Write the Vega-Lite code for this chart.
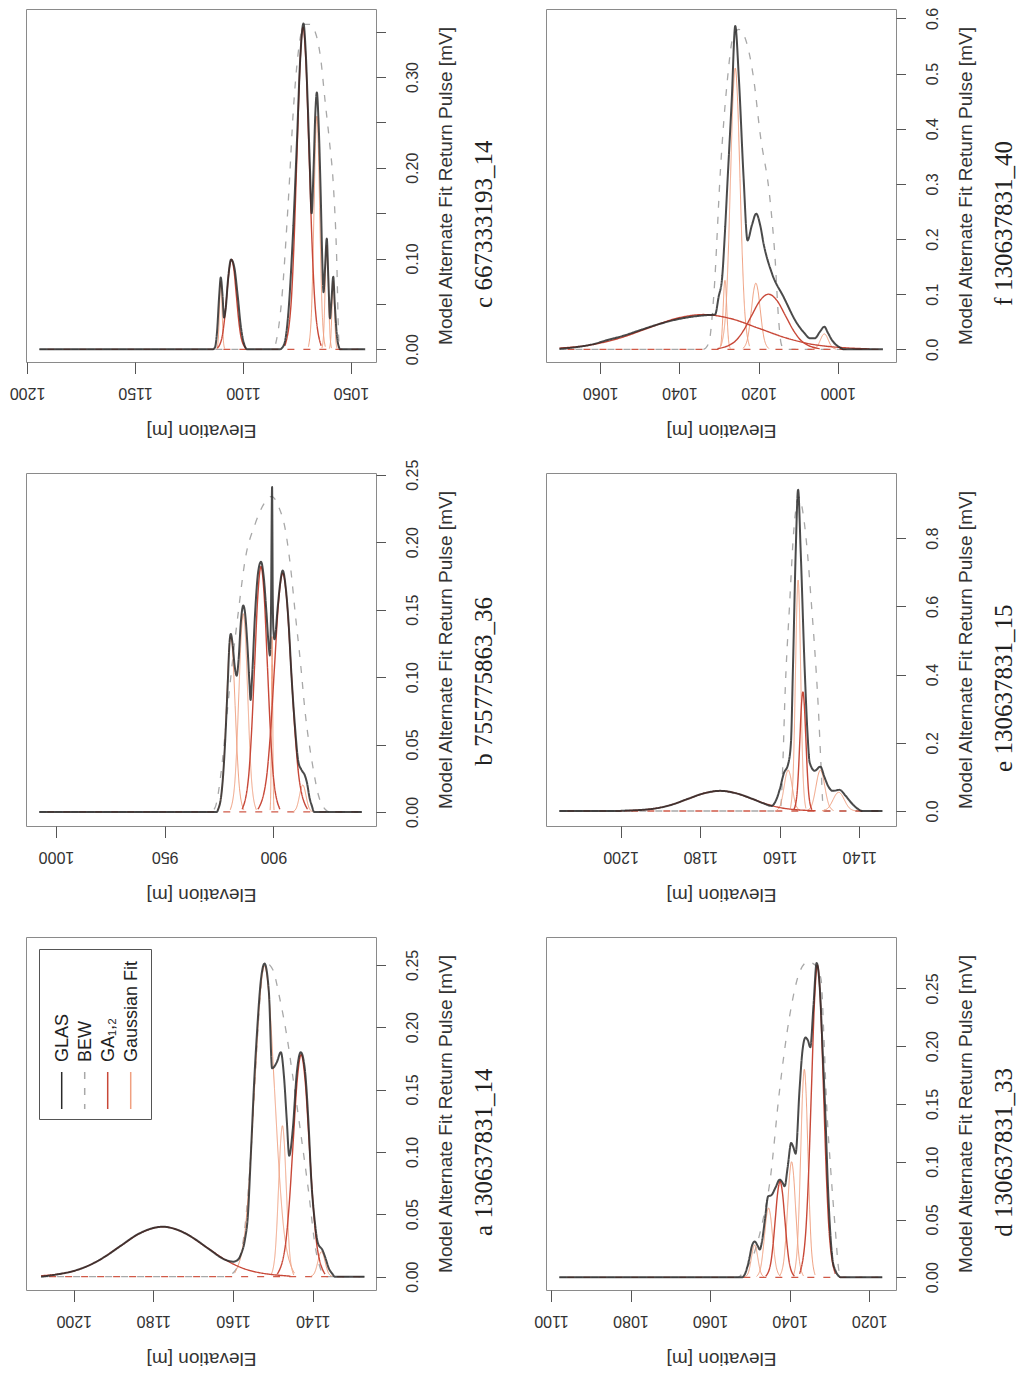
{
"$schema": "https://vega.github.io/schema/vega-lite/v6.json",
"background": "white",
"padding": {"left": 8, "top": 6, "right": 0, "bottom": 0},
"bounds": "flush",
"columns": 2,
"spacing": {"row": 111, "column": 170},
"resolve": {"scale": {"color": "independent", "strokeDash": "independent"}, "legend": {"color": "independent", "strokeDash": "independent"}},
"config": {
 "view": {"stroke": "#8a8a8a", "strokeWidth": 1},
 "axis": {"grid": false, "domain": false, "tickColor": "#555", "tickWidth": 1, "labelColor": "#333", "titleColor": "#333", "labelFont": "Liberation Sans", "titleFont": "Liberation Sans", "titleFontWeight": "normal", "labelFontSize": 16, "titleFontSize": 19, "labelOverlap": false, "labelFlush": false},
 "axisX": {"labelAngle": 180, "titleAngle": 180, "titleBaseline": "bottom", "tickSize": 11.5, "labelPadding": 11, "titlePadding": 20},
 "axisY": {"labelAngle": 270, "titleAngle": 270, "titleBaseline": "top", "tickSize": 9.5, "labelPadding": 19, "titlePadding": 16}
},
"datasets": {"w": [
{"p":"a","k":"GLAS","s":"g","e":1208.2,"v":0},{"p":"a","k":"GLAS","s":"g","e":1204,"v":0.0019},{"p":"a","k":"GLAS","s":"g","e":1200,"v":0.0046},{"p":"a","k":"GLAS","s":"g","e":1196,"v":0.0093},{"p":"a","k":"GLAS","s":"g","e":1192,"v":0.0164},{"p":"a","k":"GLAS","s":"g","e":1188,"v":0.0252},{"p":"a","k":"GLAS","s":"g","e":1184,"v":0.0338},{"p":"a","k":"GLAS","s":"g","e":1180,"v":0.039},{"p":"a","k":"GLAS","s":"g","e":1177.7,"v":0.04},{"p":"a","k":"GLAS","s":"g","e":1174,"v":0.0376},{"p":"a","k":"GLAS","s":"g","e":1170,"v":0.031},{"p":"a","k":"GLAS","s":"g","e":1166,"v":0.022},{"p":"a","k":"GLAS","s":"g","e":1162,"v":0.0136},{"p":"a","k":"GLAS","s":"g","e":1160,"v":0.012},{"p":"a","k":"GLAS","s":"g","e":1159,"v":0.013},{"p":"a","k":"GLAS","s":"g","e":1158,"v":0.018},{"p":"a","k":"GLAS","s":"g","e":1157,"v":0.03},{"p":"a","k":"GLAS","s":"g","e":1156.3,"v":0.048},{"p":"a","k":"GLAS","s":"g","e":1155.5,"v":0.1},{"p":"a","k":"GLAS","s":"g","e":1154.7,"v":0.156},{"p":"a","k":"GLAS","s":"g","e":1154,"v":0.195},{"p":"a","k":"GLAS","s":"g","e":1153,"v":0.238},{"p":"a","k":"GLAS","s":"g","e":1152.1,"v":0.251},{"p":"a","k":"GLAS","s":"g","e":1151,"v":0.228},{"p":"a","k":"GLAS","s":"g","e":1150.2,"v":0.167},{"p":"a","k":"GLAS","s":"g","e":1149,"v":0.172},{"p":"a","k":"GLAS","s":"g","e":1148,"v":0.18},{"p":"a","k":"GLAS","s":"g","e":1147.2,"v":0.16},{"p":"a","k":"GLAS","s":"g","e":1146.5,"v":0.125},{"p":"a","k":"GLAS","s":"g","e":1145.9,"v":0.097},{"p":"a","k":"GLAS","s":"g","e":1145,"v":0.118},{"p":"a","k":"GLAS","s":"g","e":1144,"v":0.163},{"p":"a","k":"GLAS","s":"g","e":1143,"v":0.18},{"p":"a","k":"GLAS","s":"g","e":1142,"v":0.167},{"p":"a","k":"GLAS","s":"g","e":1141,"v":0.12},{"p":"a","k":"GLAS","s":"g","e":1140.4,"v":0.08},{"p":"a","k":"GLAS","s":"g","e":1139.5,"v":0.045},{"p":"a","k":"GLAS","s":"g","e":1138.7,"v":0.027},{"p":"a","k":"GLAS","s":"g","e":1137.5,"v":0.021},{"p":"a","k":"GLAS","s":"g","e":1136.8,"v":0.015},{"p":"a","k":"GLAS","s":"g","e":1136,"v":0.007},{"p":"a","k":"GLAS","s":"g","e":1135,"v":0.002},{"p":"a","k":"GLAS","s":"g","e":1134.5,"v":0},{"p":"a","k":"GLAS","s":"g","e":1127,"v":0},
{"p":"a","k":"BEW","s":"b","e":1208.2,"v":0},{"p":"a","k":"BEW","s":"b","e":1162,"v":0},{"p":"a","k":"BEW","s":"b","e":1160,"v":0.003},{"p":"a","k":"BEW","s":"b","e":1158.5,"v":0.012},{"p":"a","k":"BEW","s":"b","e":1157,"v":0.04},{"p":"a","k":"BEW","s":"b","e":1155.5,"v":0.1},{"p":"a","k":"BEW","s":"b","e":1154,"v":0.185},{"p":"a","k":"BEW","s":"b","e":1153,"v":0.232},{"p":"a","k":"BEW","s":"b","e":1152,"v":0.252},{"p":"a","k":"BEW","s":"b","e":1150,"v":0.246},{"p":"a","k":"BEW","s":"b","e":1148.4,"v":0.225},{"p":"a","k":"BEW","s":"b","e":1146.5,"v":0.193},{"p":"a","k":"BEW","s":"b","e":1144.8,"v":0.156},{"p":"a","k":"BEW","s":"b","e":1143,"v":0.115},{"p":"a","k":"BEW","s":"b","e":1141.1,"v":0.07},{"p":"a","k":"BEW","s":"b","e":1139.2,"v":0.021},{"p":"a","k":"BEW","s":"b","e":1138,"v":0.006},{"p":"a","k":"BEW","s":"b","e":1137,"v":0},{"p":"a","k":"BEW","s":"b","e":1127,"v":0},
{"p":"a","k":"GA","s":"A1","e":1145.6,"v":0.0004},{"p":"a","k":"GA","s":"A1","e":1156.3,"v":0.0054},{"p":"a","k":"GA","s":"A1","e":1161.65,"v":0.013},{"p":"a","k":"GA","s":"A1","e":1167,"v":0.0243},{"p":"a","k":"GA","s":"A1","e":1172.35,"v":0.0353},{"p":"a","k":"GA","s":"A1","e":1177.7,"v":0.04},{"p":"a","k":"GA","s":"A1","e":1183.05,"v":0.0353},{"p":"a","k":"GA","s":"A1","e":1188.4,"v":0.0243},{"p":"a","k":"GA","s":"A1","e":1193.75,"v":0.013},{"p":"a","k":"GA","s":"A1","e":1199.1,"v":0.0054},{"p":"a","k":"GA","s":"A1","e":1208.2,"v":0.0007},
{"p":"a","k":"GA","s":"A2","e":1136.9,"v":0.002},{"p":"a","k":"GA","s":"A2","e":1138.9,"v":0.0241},{"p":"a","k":"GA","s":"A2","e":1139.9,"v":0.0578},{"p":"a","k":"GA","s":"A2","e":1140.9,"v":0.108},{"p":"a","k":"GA","s":"A2","e":1141.9,"v":0.1571},{"p":"a","k":"GA","s":"A2","e":1142.9,"v":0.178},{"p":"a","k":"GA","s":"A2","e":1143.9,"v":0.1571},{"p":"a","k":"GA","s":"A2","e":1144.9,"v":0.108},{"p":"a","k":"GA","s":"A2","e":1145.9,"v":0.0578},{"p":"a","k":"GA","s":"A2","e":1146.9,"v":0.0241},{"p":"a","k":"GA","s":"A2","e":1148.9,"v":0.002},
{"p":"a","k":"Gaussian Fit","s":"f1","e":1144.6,"v":0.0028},{"p":"a","k":"Gaussian Fit","s":"f1","e":1147.1,"v":0.0337},{"p":"a","k":"Gaussian Fit","s":"f1","e":1148.35,"v":0.0809},{"p":"a","k":"Gaussian Fit","s":"f1","e":1149.6,"v":0.151},{"p":"a","k":"Gaussian Fit","s":"f1","e":1150.85,"v":0.2197},{"p":"a","k":"Gaussian Fit","s":"f1","e":1152.1,"v":0.249},{"p":"a","k":"Gaussian Fit","s":"f1","e":1153.35,"v":0.2197},{"p":"a","k":"Gaussian Fit","s":"f1","e":1154.6,"v":0.151},{"p":"a","k":"Gaussian Fit","s":"f1","e":1155.85,"v":0.0809},{"p":"a","k":"Gaussian Fit","s":"f1","e":1157.1,"v":0.0337},{"p":"a","k":"Gaussian Fit","s":"f1","e":1159.6,"v":0.0028},
{"p":"a","k":"Gaussian Fit","s":"f2","e":1144.75,"v":0.0013},{"p":"a","k":"Gaussian Fit","s":"f2","e":1145.7,"v":0.0164},{"p":"a","k":"Gaussian Fit","s":"f2","e":1146.175,"v":0.0393},{"p":"a","k":"Gaussian Fit","s":"f2","e":1146.65,"v":0.0734},{"p":"a","k":"Gaussian Fit","s":"f2","e":1147.125,"v":0.1068},{"p":"a","k":"Gaussian Fit","s":"f2","e":1147.6,"v":0.121},{"p":"a","k":"Gaussian Fit","s":"f2","e":1148.075,"v":0.1068},{"p":"a","k":"Gaussian Fit","s":"f2","e":1148.55,"v":0.0734},{"p":"a","k":"Gaussian Fit","s":"f2","e":1149.025,"v":0.0393},{"p":"a","k":"Gaussian Fit","s":"f2","e":1149.5,"v":0.0164},{"p":"a","k":"Gaussian Fit","s":"f2","e":1150.45,"v":0.0013},
{"p":"a","k":"Gaussian Fit","s":"f3","e":1135.1,"v":0.0002},{"p":"a","k":"Gaussian Fit","s":"f3","e":1136,"v":0.0027},{"p":"a","k":"Gaussian Fit","s":"f3","e":1136.45,"v":0.0065},{"p":"a","k":"Gaussian Fit","s":"f3","e":1136.9,"v":0.0121},{"p":"a","k":"Gaussian Fit","s":"f3","e":1137.35,"v":0.0177},{"p":"a","k":"Gaussian Fit","s":"f3","e":1137.8,"v":0.02},{"p":"a","k":"Gaussian Fit","s":"f3","e":1138.25,"v":0.0177},{"p":"a","k":"Gaussian Fit","s":"f3","e":1138.7,"v":0.0121},{"p":"a","k":"Gaussian Fit","s":"f3","e":1139.15,"v":0.0065},{"p":"a","k":"Gaussian Fit","s":"f3","e":1139.6,"v":0.0027},{"p":"a","k":"Gaussian Fit","s":"f3","e":1140.5,"v":0.0002},

{"p":"b","k":"GLAS","s":"g","e":1007.7,"v":0},{"p":"b","k":"GLAS","s":"g","e":926,"v":0},{"p":"b","k":"GLAS","s":"g","e":925.4,"v":0.002},{"p":"b","k":"GLAS","s":"g","e":924,"v":0.012},{"p":"b","k":"GLAS","s":"g","e":923,"v":0.03},{"p":"b","k":"GLAS","s":"g","e":922.3,"v":0.049},{"p":"b","k":"GLAS","s":"g","e":921,"v":0.095},{"p":"b","k":"GLAS","s":"g","e":920.2,"v":0.125},{"p":"b","k":"GLAS","s":"g","e":919.6,"v":0.132},{"p":"b","k":"GLAS","s":"g","e":918.8,"v":0.125},{"p":"b","k":"GLAS","s":"g","e":917.8,"v":0.108},{"p":"b","k":"GLAS","s":"g","e":916.9,"v":0.101},{"p":"b","k":"GLAS","s":"g","e":916,"v":0.113},{"p":"b","k":"GLAS","s":"g","e":915,"v":0.14},{"p":"b","k":"GLAS","s":"g","e":913.85,"v":0.153},{"p":"b","k":"GLAS","s":"g","e":913,"v":0.147},{"p":"b","k":"GLAS","s":"g","e":912,"v":0.125},{"p":"b","k":"GLAS","s":"g","e":911,"v":0.095},{"p":"b","k":"GLAS","s":"g","e":910.5,"v":0.083},{"p":"b","k":"GLAS","s":"g","e":909.8,"v":0.1},{"p":"b","k":"GLAS","s":"g","e":908.5,"v":0.145},{"p":"b","k":"GLAS","s":"g","e":907,"v":0.178},{"p":"b","k":"GLAS","s":"g","e":905.7,"v":0.1855},{"p":"b","k":"GLAS","s":"g","e":904.5,"v":0.175},{"p":"b","k":"GLAS","s":"g","e":903.2,"v":0.148},{"p":"b","k":"GLAS","s":"g","e":902.2,"v":0.124},{"p":"b","k":"GLAS","s":"g","e":901.6,"v":0.116},{"p":"b","k":"GLAS","s":"g","e":901.1,"v":0.15},{"p":"b","k":"GLAS","s":"g","e":900.6,"v":0.241},{"p":"b","k":"GLAS","s":"g","e":900.3,"v":0.16},{"p":"b","k":"GLAS","s":"g","e":900,"v":0.135},{"p":"b","k":"GLAS","s":"g","e":899.5,"v":0.128},{"p":"b","k":"GLAS","s":"g","e":898,"v":0.152},{"p":"b","k":"GLAS","s":"g","e":897,"v":0.168},{"p":"b","k":"GLAS","s":"g","e":895.7,"v":0.179},{"p":"b","k":"GLAS","s":"g","e":894.3,"v":0.166},{"p":"b","k":"GLAS","s":"g","e":893,"v":0.14},{"p":"b","k":"GLAS","s":"g","e":891.6,"v":0.099},{"p":"b","k":"GLAS","s":"g","e":890,"v":0.062},{"p":"b","k":"GLAS","s":"g","e":888.5,"v":0.037},{"p":"b","k":"GLAS","s":"g","e":887,"v":0.031},{"p":"b","k":"GLAS","s":"g","e":885.5,"v":0.027},{"p":"b","k":"GLAS","s":"g","e":884.6,"v":0.022},{"p":"b","k":"GLAS","s":"g","e":883.3,"v":0.01},{"p":"b","k":"GLAS","s":"g","e":882.3,"v":0.0045},{"p":"b","k":"GLAS","s":"g","e":881.3,"v":0},{"p":"b","k":"GLAS","s":"g","e":859.3,"v":0},
{"p":"b","k":"BEW","s":"b","e":1007.7,"v":0},{"p":"b","k":"BEW","s":"b","e":929,"v":0},{"p":"b","k":"BEW","s":"b","e":926.9,"v":0.003},{"p":"b","k":"BEW","s":"b","e":924,"v":0.03},{"p":"b","k":"BEW","s":"b","e":921.5,"v":0.07},{"p":"b","k":"BEW","s":"b","e":919.2,"v":0.106},{"p":"b","k":"BEW","s":"b","e":916,"v":0.15},{"p":"b","k":"BEW","s":"b","e":913.1,"v":0.186},{"p":"b","k":"BEW","s":"b","e":908.5,"v":0.213},{"p":"b","k":"BEW","s":"b","e":904.5,"v":0.228},{"p":"b","k":"BEW","s":"b","e":900.8,"v":0.234},{"p":"b","k":"BEW","s":"b","e":897.5,"v":0.226},{"p":"b","k":"BEW","s":"b","e":894.6,"v":0.21},{"p":"b","k":"BEW","s":"b","e":892,"v":0.18},{"p":"b","k":"BEW","s":"b","e":890,"v":0.148},{"p":"b","k":"BEW","s":"b","e":887.5,"v":0.11},{"p":"b","k":"BEW","s":"b","e":885.4,"v":0.074},{"p":"b","k":"BEW","s":"b","e":882,"v":0.035},{"p":"b","k":"BEW","s":"b","e":879.2,"v":0.012},{"p":"b","k":"BEW","s":"b","e":876.2,"v":0.002},{"p":"b","k":"BEW","s":"b","e":874,"v":0},{"p":"b","k":"BEW","s":"b","e":859.3,"v":0},
{"p":"b","k":"Gaussian Fit","s":"f1","e":913.6,"v":0.0014},{"p":"b","k":"Gaussian Fit","s":"f1","e":915.6,"v":0.0176},{"p":"b","k":"Gaussian Fit","s":"f1","e":916.6,"v":0.0422},{"p":"b","k":"Gaussian Fit","s":"f1","e":917.6,"v":0.0788},{"p":"b","k":"Gaussian Fit","s":"f1","e":918.6,"v":0.1147},{"p":"b","k":"Gaussian Fit","s":"f1","e":919.6,"v":0.13},{"p":"b","k":"Gaussian Fit","s":"f1","e":920.6,"v":0.1147},{"p":"b","k":"Gaussian Fit","s":"f1","e":921.6,"v":0.0788},{"p":"b","k":"Gaussian Fit","s":"f1","e":922.6,"v":0.0422},{"p":"b","k":"Gaussian Fit","s":"f1","e":923.6,"v":0.0176},{"p":"b","k":"Gaussian Fit","s":"f1","e":925.6,"v":0.0014},
{"p":"b","k":"Gaussian Fit","s":"f2","e":907.85,"v":0.0016},{"p":"b","k":"Gaussian Fit","s":"f2","e":909.85,"v":0.0199},{"p":"b","k":"Gaussian Fit","s":"f2","e":910.85,"v":0.0477},{"p":"b","k":"Gaussian Fit","s":"f2","e":911.85,"v":0.0892},{"p":"b","k":"Gaussian Fit","s":"f2","e":912.85,"v":0.1297},{"p":"b","k":"Gaussian Fit","s":"f2","e":913.85,"v":0.147},{"p":"b","k":"Gaussian Fit","s":"f2","e":914.85,"v":0.1297},{"p":"b","k":"Gaussian Fit","s":"f2","e":915.85,"v":0.0892},{"p":"b","k":"Gaussian Fit","s":"f2","e":916.85,"v":0.0477},{"p":"b","k":"Gaussian Fit","s":"f2","e":917.85,"v":0.0199},{"p":"b","k":"Gaussian Fit","s":"f2","e":919.85,"v":0.0016},
{"p":"b","k":"GA","s":"A1","e":897,"v":0.002},{"p":"b","k":"GA","s":"A1","e":899.9,"v":0.0246},{"p":"b","k":"GA","s":"A1","e":901.35,"v":0.0591},{"p":"b","k":"GA","s":"A1","e":902.8,"v":0.1104},{"p":"b","k":"GA","s":"A1","e":904.25,"v":0.1606},{"p":"b","k":"GA","s":"A1","e":905.7,"v":0.182},{"p":"b","k":"GA","s":"A1","e":907.15,"v":0.1606},{"p":"b","k":"GA","s":"A1","e":908.6,"v":0.1104},{"p":"b","k":"GA","s":"A1","e":910.05,"v":0.0591},{"p":"b","k":"GA","s":"A1","e":911.5,"v":0.0246},{"p":"b","k":"GA","s":"A1","e":914.4,"v":0.002},
{"p":"b","k":"Gaussian Fit","s":"f3","e":899.7,"v":0.0014},{"p":"b","k":"Gaussian Fit","s":"f3","e":900,"v":0.0176},{"p":"b","k":"Gaussian Fit","s":"f3","e":900.15,"v":0.0422},{"p":"b","k":"Gaussian Fit","s":"f3","e":900.3,"v":0.0788},{"p":"b","k":"Gaussian Fit","s":"f3","e":900.45,"v":0.1147},{"p":"b","k":"Gaussian Fit","s":"f3","e":900.6,"v":0.13},{"p":"b","k":"Gaussian Fit","s":"f3","e":900.75,"v":0.1147},{"p":"b","k":"Gaussian Fit","s":"f3","e":900.9,"v":0.0788},{"p":"b","k":"Gaussian Fit","s":"f3","e":901.05,"v":0.0422},{"p":"b","k":"Gaussian Fit","s":"f3","e":901.2,"v":0.0176},{"p":"b","k":"Gaussian Fit","s":"f3","e":901.5,"v":0.0014},
{"p":"b","k":"GA","s":"A2","e":884.3,"v":0.002},{"p":"b","k":"GA","s":"A2","e":888.1,"v":0.0239},{"p":"b","k":"GA","s":"A2","e":890,"v":0.0575},{"p":"b","k":"GA","s":"A2","e":891.9,"v":0.1074},{"p":"b","k":"GA","s":"A2","e":893.8,"v":0.1562},{"p":"b","k":"GA","s":"A2","e":895.7,"v":0.177},{"p":"b","k":"GA","s":"A2","e":897.6,"v":0.1562},{"p":"b","k":"GA","s":"A2","e":899.5,"v":0.1074},{"p":"b","k":"GA","s":"A2","e":901.4,"v":0.0575},{"p":"b","k":"GA","s":"A2","e":903.3,"v":0.0239},{"p":"b","k":"GA","s":"A2","e":907.1,"v":0.002},
{"p":"b","k":"Gaussian Fit","s":"f4","e":882,"v":0.0002},{"p":"b","k":"Gaussian Fit","s":"f4","e":883.5,"v":0.0027},{"p":"b","k":"Gaussian Fit","s":"f4","e":884.25,"v":0.0065},{"p":"b","k":"Gaussian Fit","s":"f4","e":885,"v":0.0121},{"p":"b","k":"Gaussian Fit","s":"f4","e":885.75,"v":0.0177},{"p":"b","k":"Gaussian Fit","s":"f4","e":886.5,"v":0.02},{"p":"b","k":"Gaussian Fit","s":"f4","e":887.25,"v":0.0177},{"p":"b","k":"Gaussian Fit","s":"f4","e":888,"v":0.0121},{"p":"b","k":"Gaussian Fit","s":"f4","e":888.75,"v":0.0065},{"p":"b","k":"Gaussian Fit","s":"f4","e":889.5,"v":0.0027},{"p":"b","k":"Gaussian Fit","s":"f4","e":891,"v":0.0002},

{"p":"c","k":"GLAS","s":"g","e":1194.3,"v":0},{"p":"c","k":"GLAS","s":"g","e":1114,"v":0},{"p":"c","k":"GLAS","s":"g","e":1113,"v":0.002},{"p":"c","k":"GLAS","s":"g","e":1112,"v":0.02},{"p":"c","k":"GLAS","s":"g","e":1111,"v":0.06},{"p":"c","k":"GLAS","s":"g","e":1110.3,"v":0.079},{"p":"c","k":"GLAS","s":"g","e":1109.5,"v":0.06},{"p":"c","k":"GLAS","s":"g","e":1108.8,"v":0.035},{"p":"c","k":"GLAS","s":"g","e":1108,"v":0.045},{"p":"c","k":"GLAS","s":"g","e":1107,"v":0.075},{"p":"c","k":"GLAS","s":"g","e":1105.5,"v":0.099},{"p":"c","k":"GLAS","s":"g","e":1104,"v":0.09},{"p":"c","k":"GLAS","s":"g","e":1102.5,"v":0.06},{"p":"c","k":"GLAS","s":"g","e":1101,"v":0.025},{"p":"c","k":"GLAS","s":"g","e":1099.5,"v":0.006},{"p":"c","k":"GLAS","s":"g","e":1098,"v":0},{"p":"c","k":"GLAS","s":"g","e":1083,"v":0},{"p":"c","k":"GLAS","s":"g","e":1081,"v":0.005},{"p":"c","k":"GLAS","s":"g","e":1079,"v":0.04},{"p":"c","k":"GLAS","s":"g","e":1077,"v":0.12},{"p":"c","k":"GLAS","s":"g","e":1075,"v":0.23},{"p":"c","k":"GLAS","s":"g","e":1073.5,"v":0.32},{"p":"c","k":"GLAS","s":"g","e":1072,"v":0.359},{"p":"c","k":"GLAS","s":"g","e":1071,"v":0.33},{"p":"c","k":"GLAS","s":"g","e":1070,"v":0.27},{"p":"c","k":"GLAS","s":"g","e":1069,"v":0.2},{"p":"c","k":"GLAS","s":"g","e":1068.2,"v":0.15},{"p":"c","k":"GLAS","s":"g","e":1067.3,"v":0.2},{"p":"c","k":"GLAS","s":"g","e":1066.5,"v":0.26},{"p":"c","k":"GLAS","s":"g","e":1065.8,"v":0.283},{"p":"c","k":"GLAS","s":"g","e":1065,"v":0.25},{"p":"c","k":"GLAS","s":"g","e":1064,"v":0.17},{"p":"c","k":"GLAS","s":"g","e":1063.3,"v":0.1},{"p":"c","k":"GLAS","s":"g","e":1062.7,"v":0.063},{"p":"c","k":"GLAS","s":"g","e":1062,"v":0.09},{"p":"c","k":"GLAS","s":"g","e":1061.2,"v":0.122},{"p":"c","k":"GLAS","s":"g","e":1060.5,"v":0.08},{"p":"c","k":"GLAS","s":"g","e":1059.7,"v":0.034},{"p":"c","k":"GLAS","s":"g","e":1059,"v":0.055},{"p":"c","k":"GLAS","s":"g","e":1058.2,"v":0.08},{"p":"c","k":"GLAS","s":"g","e":1057.5,"v":0.05},{"p":"c","k":"GLAS","s":"g","e":1056.5,"v":0.015},{"p":"c","k":"GLAS","s":"g","e":1055.5,"v":0.002},{"p":"c","k":"GLAS","s":"g","e":1055,"v":0},{"p":"c","k":"GLAS","s":"g","e":1043.4,"v":0},
{"p":"c","k":"BEW","s":"b","e":1194.3,"v":0},{"p":"c","k":"BEW","s":"b","e":1086,"v":0},{"p":"c","k":"BEW","s":"b","e":1084.5,"v":0.01},{"p":"c","k":"BEW","s":"b","e":1082.1,"v":0.054},{"p":"c","k":"BEW","s":"b","e":1079,"v":0.164},{"p":"c","k":"BEW","s":"b","e":1076.5,"v":0.27},{"p":"c","k":"BEW","s":"b","e":1074,"v":0.335},{"p":"c","k":"BEW","s":"b","e":1071.5,"v":0.358},{"p":"c","k":"BEW","s":"b","e":1069,"v":0.358},{"p":"c","k":"BEW","s":"b","e":1066.6,"v":0.35},{"p":"c","k":"BEW","s":"b","e":1064,"v":0.32},{"p":"c","k":"BEW","s":"b","e":1062,"v":0.274},{"p":"c","k":"BEW","s":"b","e":1060,"v":0.23},{"p":"c","k":"BEW","s":"b","e":1058.1,"v":0.179},{"p":"c","k":"BEW","s":"b","e":1056.5,"v":0.091},{"p":"c","k":"BEW","s":"b","e":1055.8,"v":0.02},{"p":"c","k":"BEW","s":"b","e":1055.2,"v":0},{"p":"c","k":"BEW","s":"b","e":1043.4,"v":0},
{"p":"c","k":"Gaussian Fit","s":"f1","e":1108.5,"v":0.0008},{"p":"c","k":"Gaussian Fit","s":"f1","e":1109.1,"v":0.0101},{"p":"c","k":"Gaussian Fit","s":"f1","e":1109.4,"v":0.0244},{"p":"c","k":"Gaussian Fit","s":"f1","e":1109.7,"v":0.0455},{"p":"c","k":"Gaussian Fit","s":"f1","e":1110,"v":0.0662},{"p":"c","k":"Gaussian Fit","s":"f1","e":1110.3,"v":0.075},{"p":"c","k":"Gaussian Fit","s":"f1","e":1110.6,"v":0.0662},{"p":"c","k":"Gaussian Fit","s":"f1","e":1110.9,"v":0.0455},{"p":"c","k":"Gaussian Fit","s":"f1","e":1111.2,"v":0.0244},{"p":"c","k":"Gaussian Fit","s":"f1","e":1111.5,"v":0.0101},{"p":"c","k":"Gaussian Fit","s":"f1","e":1112.1,"v":0.0008},
{"p":"c","k":"GA","s":"A1","e":1098.7,"v":0.0011},{"p":"c","k":"GA","s":"A1","e":1100.9,"v":0.0134},{"p":"c","k":"GA","s":"A1","e":1102,"v":0.0321},{"p":"c","k":"GA","s":"A1","e":1103.1,"v":0.06},{"p":"c","k":"GA","s":"A1","e":1104.2,"v":0.0874},{"p":"c","k":"GA","s":"A1","e":1105.3,"v":0.099},{"p":"c","k":"GA","s":"A1","e":1106.4,"v":0.0874},{"p":"c","k":"GA","s":"A1","e":1107.5,"v":0.06},{"p":"c","k":"GA","s":"A1","e":1108.6,"v":0.0321},{"p":"c","k":"GA","s":"A1","e":1109.7,"v":0.0134},{"p":"c","k":"GA","s":"A1","e":1111.9,"v":0.0011},
{"p":"c","k":"GA","s":"A2","e":1063.8,"v":0.0039},{"p":"c","k":"GA","s":"A2","e":1066.6,"v":0.048},{"p":"c","k":"GA","s":"A2","e":1068,"v":0.1153},{"p":"c","k":"GA","s":"A2","e":1069.4,"v":0.2153},{"p":"c","k":"GA","s":"A2","e":1070.8,"v":0.3133},{"p":"c","k":"GA","s":"A2","e":1072.2,"v":0.355},{"p":"c","k":"GA","s":"A2","e":1073.6,"v":0.3133},{"p":"c","k":"GA","s":"A2","e":1075,"v":0.2153},{"p":"c","k":"GA","s":"A2","e":1076.4,"v":0.1153},{"p":"c","k":"GA","s":"A2","e":1077.8,"v":0.048},{"p":"c","k":"GA","s":"A2","e":1080.6,"v":0.0039},
{"p":"c","k":"Gaussian Fit","s":"f2","e":1061.9,"v":0.0029},{"p":"c","k":"Gaussian Fit","s":"f2","e":1063.2,"v":0.0348},{"p":"c","k":"Gaussian Fit","s":"f2","e":1063.85,"v":0.0834},{"p":"c","k":"Gaussian Fit","s":"f2","e":1064.5,"v":0.1559},{"p":"c","k":"Gaussian Fit","s":"f2","e":1065.15,"v":0.2268},{"p":"c","k":"Gaussian Fit","s":"f2","e":1065.8,"v":0.257},{"p":"c","k":"Gaussian Fit","s":"f2","e":1066.45,"v":0.2268},{"p":"c","k":"Gaussian Fit","s":"f2","e":1067.1,"v":0.1559},{"p":"c","k":"Gaussian Fit","s":"f2","e":1067.75,"v":0.0834},{"p":"c","k":"Gaussian Fit","s":"f2","e":1068.4,"v":0.0348},{"p":"c","k":"Gaussian Fit","s":"f2","e":1069.7,"v":0.0029},
{"p":"c","k":"Gaussian Fit","s":"f3","e":1058.95,"v":0.0013},{"p":"c","k":"Gaussian Fit","s":"f3","e":1059.7,"v":0.0156},{"p":"c","k":"Gaussian Fit","s":"f3","e":1060.075,"v":0.0373},{"p":"c","k":"Gaussian Fit","s":"f3","e":1060.45,"v":0.0697},{"p":"c","k":"Gaussian Fit","s":"f3","e":1060.825,"v":0.1015},{"p":"c","k":"Gaussian Fit","s":"f3","e":1061.2,"v":0.115},{"p":"c","k":"Gaussian Fit","s":"f3","e":1061.575,"v":0.1015},{"p":"c","k":"Gaussian Fit","s":"f3","e":1061.95,"v":0.0697},{"p":"c","k":"Gaussian Fit","s":"f3","e":1062.325,"v":0.0373},{"p":"c","k":"Gaussian Fit","s":"f3","e":1062.7,"v":0.0156},{"p":"c","k":"Gaussian Fit","s":"f3","e":1063.45,"v":0.0013},
{"p":"c","k":"Gaussian Fit","s":"f4","e":1056.4,"v":0.0008},{"p":"c","k":"Gaussian Fit","s":"f4","e":1057,"v":0.0101},{"p":"c","k":"Gaussian Fit","s":"f4","e":1057.3,"v":0.0244},{"p":"c","k":"Gaussian Fit","s":"f4","e":1057.6,"v":0.0455},{"p":"c","k":"Gaussian Fit","s":"f4","e":1057.9,"v":0.0662},{"p":"c","k":"Gaussian Fit","s":"f4","e":1058.2,"v":0.075},{"p":"c","k":"Gaussian Fit","s":"f4","e":1058.5,"v":0.0662},{"p":"c","k":"Gaussian Fit","s":"f4","e":1058.8,"v":0.0455},{"p":"c","k":"Gaussian Fit","s":"f4","e":1059.1,"v":0.0244},{"p":"c","k":"Gaussian Fit","s":"f4","e":1059.4,"v":0.0101},{"p":"c","k":"Gaussian Fit","s":"f4","e":1060,"v":0.0008},

{"p":"d","k":"GLAS","s":"g","e":1097.9,"v":0},{"p":"d","k":"GLAS","s":"g","e":1052,"v":0},{"p":"d","k":"GLAS","s":"g","e":1051.2,"v":0.003},{"p":"d","k":"GLAS","s":"g","e":1050.2,"v":0.015},{"p":"d","k":"GLAS","s":"g","e":1049.4,"v":0.028},{"p":"d","k":"GLAS","s":"g","e":1048.75,"v":0.031},{"p":"d","k":"GLAS","s":"g","e":1048,"v":0.027},{"p":"d","k":"GLAS","s":"g","e":1047.5,"v":0.024},{"p":"d","k":"GLAS","s":"g","e":1047,"v":0.03},{"p":"d","k":"GLAS","s":"g","e":1046.2,"v":0.05},{"p":"d","k":"GLAS","s":"g","e":1045.4,"v":0.07},{"p":"d","k":"GLAS","s":"g","e":1044.6,"v":0.071},{"p":"d","k":"GLAS","s":"g","e":1043.5,"v":0.078},{"p":"d","k":"GLAS","s":"g","e":1042.5,"v":0.0845},{"p":"d","k":"GLAS","s":"g","e":1041.8,"v":0.082},{"p":"d","k":"GLAS","s":"g","e":1041.25,"v":0.0787},{"p":"d","k":"GLAS","s":"g","e":1040.5,"v":0.095},{"p":"d","k":"GLAS","s":"g","e":1039.6,"v":0.1163},{"p":"d","k":"GLAS","s":"g","e":1039,"v":0.112},{"p":"d","k":"GLAS","s":"g","e":1038.5,"v":0.107},{"p":"d","k":"GLAS","s":"g","e":1037.5,"v":0.1626},{"p":"d","k":"GLAS","s":"g","e":1036.8,"v":0.195},{"p":"d","k":"GLAS","s":"g","e":1036,"v":0.2075},{"p":"d","k":"GLAS","s":"g","e":1035.4,"v":0.205},{"p":"d","k":"GLAS","s":"g","e":1034.8,"v":0.199},{"p":"d","k":"GLAS","s":"g","e":1034,"v":0.235},{"p":"d","k":"GLAS","s":"g","e":1033.2,"v":0.272},{"p":"d","k":"GLAS","s":"g","e":1032.4,"v":0.25},{"p":"d","k":"GLAS","s":"g","e":1031.7,"v":0.197},{"p":"d","k":"GLAS","s":"g","e":1031,"v":0.14},{"p":"d","k":"GLAS","s":"g","e":1030.4,"v":0.0816},{"p":"d","k":"GLAS","s":"g","e":1029.8,"v":0.04},{"p":"d","k":"GLAS","s":"g","e":1029.2,"v":0.015},{"p":"d","k":"GLAS","s":"g","e":1028.5,"v":0.006},{"p":"d","k":"GLAS","s":"g","e":1027.9,"v":0.002},{"p":"d","k":"GLAS","s":"g","e":1027,"v":0},{"p":"d","k":"GLAS","s":"g","e":1016.7,"v":0},
{"p":"d","k":"BEW","s":"b","e":1097.9,"v":0},{"p":"d","k":"BEW","s":"b","e":1053,"v":0},{"p":"d","k":"BEW","s":"b","e":1051.5,"v":0.005},{"p":"d","k":"BEW","s":"b","e":1049,"v":0.02},{"p":"d","k":"BEW","s":"b","e":1047,"v":0.045},{"p":"d","k":"BEW","s":"b","e":1045,"v":0.0816},{"p":"d","k":"BEW","s":"b","e":1042.5,"v":0.1626},{"p":"d","k":"BEW","s":"b","e":1040,"v":0.226},{"p":"d","k":"BEW","s":"b","e":1037.5,"v":0.264},{"p":"d","k":"BEW","s":"b","e":1035.4,"v":0.273},{"p":"d","k":"BEW","s":"b","e":1033.5,"v":0.27},{"p":"d","k":"BEW","s":"b","e":1032.1,"v":0.258},{"p":"d","k":"BEW","s":"b","e":1031.4,"v":0.21},{"p":"d","k":"BEW","s":"b","e":1030.8,"v":0.157},{"p":"d","k":"BEW","s":"b","e":1029.6,"v":0.09},{"p":"d","k":"BEW","s":"b","e":1028.5,"v":0.041},{"p":"d","k":"BEW","s":"b","e":1027.7,"v":0.008},{"p":"d","k":"BEW","s":"b","e":1027,"v":0},{"p":"d","k":"BEW","s":"b","e":1016.7,"v":0},
{"p":"d","k":"GA","s":"A1","e":1028.5,"v":0.003},{"p":"d","k":"GA","s":"A1","e":1030,"v":0.0365},{"p":"d","k":"GA","s":"A1","e":1030.75,"v":0.0877},{"p":"d","k":"GA","s":"A1","e":1031.5,"v":0.1638},{"p":"d","k":"GA","s":"A1","e":1032.25,"v":0.2383},{"p":"d","k":"GA","s":"A1","e":1033,"v":0.27},{"p":"d","k":"GA","s":"A1","e":1033.75,"v":0.2383},{"p":"d","k":"GA","s":"A1","e":1034.5,"v":0.1638},{"p":"d","k":"GA","s":"A1","e":1035.25,"v":0.0877},{"p":"d","k":"GA","s":"A1","e":1036,"v":0.0365},{"p":"d","k":"GA","s":"A1","e":1037.5,"v":0.003},
{"p":"d","k":"Gaussian Fit","s":"f1","e":1033.6,"v":0.002},{"p":"d","k":"Gaussian Fit","s":"f1","e":1034.5,"v":0.0244},{"p":"d","k":"Gaussian Fit","s":"f1","e":1034.95,"v":0.0584},{"p":"d","k":"Gaussian Fit","s":"f1","e":1035.4,"v":0.1092},{"p":"d","k":"Gaussian Fit","s":"f1","e":1035.85,"v":0.1589},{"p":"d","k":"Gaussian Fit","s":"f1","e":1036.3,"v":0.18},{"p":"d","k":"Gaussian Fit","s":"f1","e":1036.75,"v":0.1589},{"p":"d","k":"Gaussian Fit","s":"f1","e":1037.2,"v":0.1092},{"p":"d","k":"Gaussian Fit","s":"f1","e":1037.65,"v":0.0584},{"p":"d","k":"Gaussian Fit","s":"f1","e":1038.1,"v":0.0244},{"p":"d","k":"Gaussian Fit","s":"f1","e":1039,"v":0.002},
{"p":"d","k":"Gaussian Fit","s":"f2","e":1036.5,"v":0.0011},{"p":"d","k":"Gaussian Fit","s":"f2","e":1037.5,"v":0.0135},{"p":"d","k":"Gaussian Fit","s":"f2","e":1038,"v":0.0325},{"p":"d","k":"Gaussian Fit","s":"f2","e":1038.5,"v":0.0607},{"p":"d","k":"Gaussian Fit","s":"f2","e":1039,"v":0.0883},{"p":"d","k":"Gaussian Fit","s":"f2","e":1039.5,"v":0.1},{"p":"d","k":"Gaussian Fit","s":"f2","e":1040,"v":0.0883},{"p":"d","k":"Gaussian Fit","s":"f2","e":1040.5,"v":0.0607},{"p":"d","k":"Gaussian Fit","s":"f2","e":1041,"v":0.0325},{"p":"d","k":"Gaussian Fit","s":"f2","e":1041.5,"v":0.0135},{"p":"d","k":"Gaussian Fit","s":"f2","e":1042.5,"v":0.0011},
{"p":"d","k":"GA","s":"A2","e":1038.8,"v":0.0009},{"p":"d","k":"GA","s":"A2","e":1040,"v":0.0112},{"p":"d","k":"GA","s":"A2","e":1040.6,"v":0.027},{"p":"d","k":"GA","s":"A2","e":1041.2,"v":0.0503},{"p":"d","k":"GA","s":"A2","e":1041.8,"v":0.0732},{"p":"d","k":"GA","s":"A2","e":1042.4,"v":0.083},{"p":"d","k":"GA","s":"A2","e":1043,"v":0.0732},{"p":"d","k":"GA","s":"A2","e":1043.6,"v":0.0503},{"p":"d","k":"GA","s":"A2","e":1044.2,"v":0.027},{"p":"d","k":"GA","s":"A2","e":1044.8,"v":0.0112},{"p":"d","k":"GA","s":"A2","e":1046,"v":0.0009},
{"p":"d","k":"Gaussian Fit","s":"f3","e":1042.3,"v":0.0007},{"p":"d","k":"Gaussian Fit","s":"f3","e":1043.3,"v":0.0081},{"p":"d","k":"Gaussian Fit","s":"f3","e":1043.8,"v":0.0195},{"p":"d","k":"Gaussian Fit","s":"f3","e":1044.3,"v":0.0364},{"p":"d","k":"Gaussian Fit","s":"f3","e":1044.8,"v":0.053},{"p":"d","k":"Gaussian Fit","s":"f3","e":1045.3,"v":0.06},{"p":"d","k":"Gaussian Fit","s":"f3","e":1045.8,"v":0.053},{"p":"d","k":"Gaussian Fit","s":"f3","e":1046.3,"v":0.0364},{"p":"d","k":"Gaussian Fit","s":"f3","e":1046.8,"v":0.0195},{"p":"d","k":"Gaussian Fit","s":"f3","e":1047.3,"v":0.0081},{"p":"d","k":"Gaussian Fit","s":"f3","e":1048.3,"v":0.0007},
{"p":"d","k":"Gaussian Fit","s":"f4","e":1046.4,"v":0.0003},{"p":"d","k":"Gaussian Fit","s":"f4","e":1047.2,"v":0.0038},{"p":"d","k":"Gaussian Fit","s":"f4","e":1047.6,"v":0.0091},{"p":"d","k":"Gaussian Fit","s":"f4","e":1048,"v":0.017},{"p":"d","k":"Gaussian Fit","s":"f4","e":1048.4,"v":0.0247},{"p":"d","k":"Gaussian Fit","s":"f4","e":1048.8,"v":0.028},{"p":"d","k":"Gaussian Fit","s":"f4","e":1049.2,"v":0.0247},{"p":"d","k":"Gaussian Fit","s":"f4","e":1049.6,"v":0.017},{"p":"d","k":"Gaussian Fit","s":"f4","e":1050,"v":0.0091},{"p":"d","k":"Gaussian Fit","s":"f4","e":1050.4,"v":0.0038},{"p":"d","k":"Gaussian Fit","s":"f4","e":1051.2,"v":0.0003},

{"p":"e","k":"GLAS","s":"g","e":1215.4,"v":0},{"p":"e","k":"GLAS","s":"g","e":1201,"v":0},{"p":"e","k":"GLAS","s":"g","e":1199,"v":0.001},{"p":"e","k":"GLAS","s":"g","e":1195,"v":0.003},{"p":"e","k":"GLAS","s":"g","e":1191,"v":0.008},{"p":"e","k":"GLAS","s":"g","e":1187,"v":0.019},{"p":"e","k":"GLAS","s":"g","e":1183,"v":0.036},{"p":"e","k":"GLAS","s":"g","e":1179,"v":0.052},{"p":"e","k":"GLAS","s":"g","e":1175,"v":0.059},{"p":"e","k":"GLAS","s":"g","e":1171,"v":0.052},{"p":"e","k":"GLAS","s":"g","e":1167,"v":0.036},{"p":"e","k":"GLAS","s":"g","e":1164,"v":0.022},{"p":"e","k":"GLAS","s":"g","e":1162.1,"v":0.015},{"p":"e","k":"GLAS","s":"g","e":1161,"v":0.03},{"p":"e","k":"GLAS","s":"g","e":1160,"v":0.064},{"p":"e","k":"GLAS","s":"g","e":1159,"v":0.11},{"p":"e","k":"GLAS","s":"g","e":1157.9,"v":0.1375},{"p":"e","k":"GLAS","s":"g","e":1157.2,"v":0.2},{"p":"e","k":"GLAS","s":"g","e":1156.7,"v":0.417},{"p":"e","k":"GLAS","s":"g","e":1156,"v":0.761},{"p":"e","k":"GLAS","s":"g","e":1155.4,"v":0.942},{"p":"e","k":"GLAS","s":"g","e":1154.75,"v":0.761},{"p":"e","k":"GLAS","s":"g","e":1153.75,"v":0.417},{"p":"e","k":"GLAS","s":"g","e":1153,"v":0.22},{"p":"e","k":"GLAS","s":"g","e":1152.5,"v":0.1425},{"p":"e","k":"GLAS","s":"g","e":1151.25,"v":0.118},{"p":"e","k":"GLAS","s":"g","e":1149.8,"v":0.13},{"p":"e","k":"GLAS","s":"g","e":1148.8,"v":0.1},{"p":"e","k":"GLAS","s":"g","e":1147.9,"v":0.074},{"p":"e","k":"GLAS","s":"g","e":1146.7,"v":0.059},{"p":"e","k":"GLAS","s":"g","e":1145,"v":0.062},{"p":"e","k":"GLAS","s":"g","e":1143.5,"v":0.045},{"p":"e","k":"GLAS","s":"g","e":1142.1,"v":0.025},{"p":"e","k":"GLAS","s":"g","e":1140.5,"v":0.007},{"p":"e","k":"GLAS","s":"g","e":1139.2,"v":0},{"p":"e","k":"GLAS","s":"g","e":1134.2,"v":0},
{"p":"e","k":"BEW","s":"b","e":1215.4,"v":0},{"p":"e","k":"BEW","s":"b","e":1161,"v":0},{"p":"e","k":"BEW","s":"b","e":1159.8,"v":0.01},{"p":"e","k":"BEW","s":"b","e":1159.2,"v":0.15},{"p":"e","k":"BEW","s":"b","e":1158.75,"v":0.319},{"p":"e","k":"BEW","s":"b","e":1157.5,"v":0.614},{"p":"e","k":"BEW","s":"b","e":1156.5,"v":0.82},{"p":"e","k":"BEW","s":"b","e":1155.2,"v":0.92},{"p":"e","k":"BEW","s":"b","e":1154,"v":0.86},{"p":"e","k":"BEW","s":"b","e":1153,"v":0.75},{"p":"e","k":"BEW","s":"b","e":1152.1,"v":0.614},{"p":"e","k":"BEW","s":"b","e":1151.2,"v":0.47},{"p":"e","k":"BEW","s":"b","e":1150.4,"v":0.319},{"p":"e","k":"BEW","s":"b","e":1149.6,"v":0.123},{"p":"e","k":"BEW","s":"b","e":1149.2,"v":0.025},{"p":"e","k":"BEW","s":"b","e":1148.6,"v":0},{"p":"e","k":"BEW","s":"b","e":1134.2,"v":0},
{"p":"e","k":"GA","s":"A1","e":1151,"v":0.0007},{"p":"e","k":"GA","s":"A1","e":1159,"v":0.008},{"p":"e","k":"GA","s":"A1","e":1163,"v":0.0192},{"p":"e","k":"GA","s":"A1","e":1167,"v":0.0358},{"p":"e","k":"GA","s":"A1","e":1171,"v":0.0521},{"p":"e","k":"GA","s":"A1","e":1175,"v":0.059},{"p":"e","k":"GA","s":"A1","e":1179,"v":0.0521},{"p":"e","k":"GA","s":"A1","e":1183,"v":0.0358},{"p":"e","k":"GA","s":"A1","e":1187,"v":0.0192},{"p":"e","k":"GA","s":"A1","e":1191,"v":0.008},{"p":"e","k":"GA","s":"A1","e":1199,"v":0.0007},
{"p":"e","k":"Gaussian Fit","s":"f1","e":1154.9,"v":0.0013},{"p":"e","k":"Gaussian Fit","s":"f1","e":1155.9,"v":0.0162},{"p":"e","k":"Gaussian Fit","s":"f1","e":1156.4,"v":0.039},{"p":"e","k":"Gaussian Fit","s":"f1","e":1156.9,"v":0.0728},{"p":"e","k":"Gaussian Fit","s":"f1","e":1157.4,"v":0.1059},{"p":"e","k":"Gaussian Fit","s":"f1","e":1157.9,"v":0.12},{"p":"e","k":"Gaussian Fit","s":"f1","e":1158.4,"v":0.1059},{"p":"e","k":"Gaussian Fit","s":"f1","e":1158.9,"v":0.0728},{"p":"e","k":"Gaussian Fit","s":"f1","e":1159.4,"v":0.039},{"p":"e","k":"Gaussian Fit","s":"f1","e":1159.9,"v":0.0162},{"p":"e","k":"Gaussian Fit","s":"f1","e":1160.9,"v":0.0013},
{"p":"e","k":"Gaussian Fit","s":"f2","e":1153.45,"v":0.0075},{"p":"e","k":"Gaussian Fit","s":"f2","e":1154.1,"v":0.0916},{"p":"e","k":"Gaussian Fit","s":"f2","e":1154.425,"v":0.2198},{"p":"e","k":"Gaussian Fit","s":"f2","e":1154.75,"v":0.4106},{"p":"e","k":"Gaussian Fit","s":"f2","e":1155.075,"v":0.5975},{"p":"e","k":"Gaussian Fit","s":"f2","e":1155.4,"v":0.677},{"p":"e","k":"Gaussian Fit","s":"f2","e":1155.725,"v":0.5975},{"p":"e","k":"Gaussian Fit","s":"f2","e":1156.05,"v":0.4106},{"p":"e","k":"Gaussian Fit","s":"f2","e":1156.375,"v":0.2198},{"p":"e","k":"Gaussian Fit","s":"f2","e":1156.7,"v":0.0916},{"p":"e","k":"Gaussian Fit","s":"f2","e":1157.35,"v":0.0075},
{"p":"e","k":"GA","s":"A2","e":1151.95,"v":0.0039},{"p":"e","k":"GA","s":"A2","e":1152.7,"v":0.0472},{"p":"e","k":"GA","s":"A2","e":1153.075,"v":0.1133},{"p":"e","k":"GA","s":"A2","e":1153.45,"v":0.2117},{"p":"e","k":"GA","s":"A2","e":1153.825,"v":0.308},{"p":"e","k":"GA","s":"A2","e":1154.2,"v":0.349},{"p":"e","k":"GA","s":"A2","e":1154.575,"v":0.308},{"p":"e","k":"GA","s":"A2","e":1154.95,"v":0.2117},{"p":"e","k":"GA","s":"A2","e":1155.325,"v":0.1133},{"p":"e","k":"GA","s":"A2","e":1155.7,"v":0.0472},{"p":"e","k":"GA","s":"A2","e":1156.45,"v":0.0039},
{"p":"e","k":"Gaussian Fit","s":"f3","e":1146.5,"v":0.0013},{"p":"e","k":"Gaussian Fit","s":"f3","e":1147.6,"v":0.0162},{"p":"e","k":"Gaussian Fit","s":"f3","e":1148.15,"v":0.039},{"p":"e","k":"Gaussian Fit","s":"f3","e":1148.7,"v":0.0728},{"p":"e","k":"Gaussian Fit","s":"f3","e":1149.25,"v":0.1059},{"p":"e","k":"Gaussian Fit","s":"f3","e":1149.8,"v":0.12},{"p":"e","k":"Gaussian Fit","s":"f3","e":1150.35,"v":0.1059},{"p":"e","k":"Gaussian Fit","s":"f3","e":1150.9,"v":0.0728},{"p":"e","k":"Gaussian Fit","s":"f3","e":1151.45,"v":0.039},{"p":"e","k":"Gaussian Fit","s":"f3","e":1152,"v":0.0162},{"p":"e","k":"Gaussian Fit","s":"f3","e":1153.1,"v":0.0013},
{"p":"e","k":"Gaussian Fit","s":"f4","e":1141,"v":0.0006},{"p":"e","k":"Gaussian Fit","s":"f4","e":1142.4,"v":0.0074},{"p":"e","k":"Gaussian Fit","s":"f4","e":1143.1,"v":0.0179},{"p":"e","k":"Gaussian Fit","s":"f4","e":1143.8,"v":0.0334},{"p":"e","k":"Gaussian Fit","s":"f4","e":1144.5,"v":0.0485},{"p":"e","k":"Gaussian Fit","s":"f4","e":1145.2,"v":0.055},{"p":"e","k":"Gaussian Fit","s":"f4","e":1145.9,"v":0.0485},{"p":"e","k":"Gaussian Fit","s":"f4","e":1146.6,"v":0.0334},{"p":"e","k":"Gaussian Fit","s":"f4","e":1147.3,"v":0.0179},{"p":"e","k":"Gaussian Fit","s":"f4","e":1148,"v":0.0074},{"p":"e","k":"Gaussian Fit","s":"f4","e":1149.4,"v":0.0006},

{"p":"f","k":"GLAS","s":"g","e":1070.3,"v":0.001},{"p":"f","k":"GLAS","s":"g","e":1066,"v":0.004},{"p":"f","k":"GLAS","s":"g","e":1062,"v":0.009},{"p":"f","k":"GLAS","s":"g","e":1058.1,"v":0.017},{"p":"f","k":"GLAS","s":"g","e":1054,"v":0.025},{"p":"f","k":"GLAS","s":"g","e":1049.8,"v":0.035},{"p":"f","k":"GLAS","s":"g","e":1045.5,"v":0.045},{"p":"f","k":"GLAS","s":"g","e":1041.4,"v":0.053},{"p":"f","k":"GLAS","s":"g","e":1037,"v":0.059},{"p":"f","k":"GLAS","s":"g","e":1033,"v":0.062},{"p":"f","k":"GLAS","s":"g","e":1031,"v":0.063},{"p":"f","k":"GLAS","s":"g","e":1030.1,"v":0.095},{"p":"f","k":"GLAS","s":"g","e":1029.2,"v":0.131},{"p":"f","k":"GLAS","s":"g","e":1028.6,"v":0.2},{"p":"f","k":"GLAS","s":"g","e":1027.8,"v":0.312},{"p":"f","k":"GLAS","s":"g","e":1026.8,"v":0.45},{"p":"f","k":"GLAS","s":"g","e":1025.9,"v":0.586},{"p":"f","k":"GLAS","s":"g","e":1025,"v":0.493},{"p":"f","k":"GLAS","s":"g","e":1023.8,"v":0.312},{"p":"f","k":"GLAS","s":"g","e":1022.8,"v":0.1975},{"p":"f","k":"GLAS","s":"g","e":1021.7,"v":0.225},{"p":"f","k":"GLAS","s":"g","e":1020.6,"v":0.246},{"p":"f","k":"GLAS","s":"g","e":1019.6,"v":0.225},{"p":"f","k":"GLAS","s":"g","e":1018.7,"v":0.19},{"p":"f","k":"GLAS","s":"g","e":1016.6,"v":0.137},{"p":"f","k":"GLAS","s":"g","e":1013.7,"v":0.095},{"p":"f","k":"GLAS","s":"g","e":1010.3,"v":0.047},{"p":"f","k":"GLAS","s":"g","e":1008.5,"v":0.03},{"p":"f","k":"GLAS","s":"g","e":1007,"v":0.02},{"p":"f","k":"GLAS","s":"g","e":1005.8,"v":0.02},{"p":"f","k":"GLAS","s":"g","e":1004.5,"v":0.032},{"p":"f","k":"GLAS","s":"g","e":1003.4,"v":0.041},{"p":"f","k":"GLAS","s":"g","e":1002.5,"v":0.03},{"p":"f","k":"GLAS","s":"g","e":1001.5,"v":0.017},{"p":"f","k":"GLAS","s":"g","e":999.4,"v":0.003},{"p":"f","k":"GLAS","s":"g","e":998.5,"v":0},{"p":"f","k":"GLAS","s":"g","e":988.6,"v":0},
{"p":"f","k":"BEW","s":"b","e":1070.3,"v":0},{"p":"f","k":"BEW","s":"b","e":1034,"v":0},{"p":"f","k":"BEW","s":"b","e":1032.6,"v":0.011},{"p":"f","k":"BEW","s":"b","e":1031.3,"v":0.1},{"p":"f","k":"BEW","s":"b","e":1029.6,"v":0.33},{"p":"f","k":"BEW","s":"b","e":1028,"v":0.48},{"p":"f","k":"BEW","s":"b","e":1026.5,"v":0.565},{"p":"f","k":"BEW","s":"b","e":1025,"v":0.58},{"p":"f","k":"BEW","s":"b","e":1023.2,"v":0.56},{"p":"f","k":"BEW","s":"b","e":1021.3,"v":0.493},{"p":"f","k":"BEW","s":"b","e":1019.6,"v":0.39},{"p":"f","k":"BEW","s":"b","e":1017.1,"v":0.27},{"p":"f","k":"BEW","s":"b","e":1015.8,"v":0.16},{"p":"f","k":"BEW","s":"b","e":1015,"v":0.059},{"p":"f","k":"BEW","s":"b","e":1014.3,"v":0.01},{"p":"f","k":"BEW","s":"b","e":1013.5,"v":0},{"p":"f","k":"BEW","s":"b","e":988.6,"v":0},
{"p":"f","k":"GA","s":"A1","e":992,"v":0.0007},{"p":"f","k":"GA","s":"A1","e":1006,"v":0.0085},{"p":"f","k":"GA","s":"A1","e":1013,"v":0.0205},{"p":"f","k":"GA","s":"A1","e":1020,"v":0.0382},{"p":"f","k":"GA","s":"A1","e":1027,"v":0.0556},{"p":"f","k":"GA","s":"A1","e":1034,"v":0.063},{"p":"f","k":"GA","s":"A1","e":1041,"v":0.0556},{"p":"f","k":"GA","s":"A1","e":1048,"v":0.0382},{"p":"f","k":"GA","s":"A1","e":1055,"v":0.0205},{"p":"f","k":"GA","s":"A1","e":1062,"v":0.0085},{"p":"f","k":"GA","s":"A1","e":1070.3,"v":0.0022},
{"p":"f","k":"GA","s":"A2","e":1004.6,"v":0.0011},{"p":"f","k":"GA","s":"A2","e":1008.9,"v":0.0135},{"p":"f","k":"GA","s":"A2","e":1011.05,"v":0.0325},{"p":"f","k":"GA","s":"A2","e":1013.2,"v":0.0607},{"p":"f","k":"GA","s":"A2","e":1015.35,"v":0.0883},{"p":"f","k":"GA","s":"A2","e":1017.5,"v":0.1},{"p":"f","k":"GA","s":"A2","e":1019.65,"v":0.0883},{"p":"f","k":"GA","s":"A2","e":1021.8,"v":0.0607},{"p":"f","k":"GA","s":"A2","e":1023.95,"v":0.0325},{"p":"f","k":"GA","s":"A2","e":1026.1,"v":0.0135},{"p":"f","k":"GA","s":"A2","e":1030.4,"v":0.0011},
{"p":"f","k":"Gaussian Fit","s":"f1","e":1022.3,"v":0.0057},{"p":"f","k":"Gaussian Fit","s":"f1","e":1023.5,"v":0.069},{"p":"f","k":"Gaussian Fit","s":"f1","e":1024.1,"v":0.1656},{"p":"f","k":"Gaussian Fit","s":"f1","e":1024.7,"v":0.3093},{"p":"f","k":"Gaussian Fit","s":"f1","e":1025.3,"v":0.4501},{"p":"f","k":"Gaussian Fit","s":"f1","e":1025.9,"v":0.51},{"p":"f","k":"Gaussian Fit","s":"f1","e":1026.5,"v":0.4501},{"p":"f","k":"Gaussian Fit","s":"f1","e":1027.1,"v":0.3093},{"p":"f","k":"Gaussian Fit","s":"f1","e":1027.7,"v":0.1656},{"p":"f","k":"Gaussian Fit","s":"f1","e":1028.3,"v":0.069},{"p":"f","k":"Gaussian Fit","s":"f1","e":1029.5,"v":0.0057},
{"p":"f","k":"Gaussian Fit","s":"f2","e":1027.15,"v":0.0014},{"p":"f","k":"Gaussian Fit","s":"f2","e":1027.6,"v":0.0169},{"p":"f","k":"Gaussian Fit","s":"f2","e":1027.825,"v":0.0406},{"p":"f","k":"Gaussian Fit","s":"f2","e":1028.05,"v":0.0758},{"p":"f","k":"Gaussian Fit","s":"f2","e":1028.275,"v":0.1103},{"p":"f","k":"Gaussian Fit","s":"f2","e":1028.5,"v":0.125},{"p":"f","k":"Gaussian Fit","s":"f2","e":1028.725,"v":0.1103},{"p":"f","k":"Gaussian Fit","s":"f2","e":1028.95,"v":0.0758},{"p":"f","k":"Gaussian Fit","s":"f2","e":1029.175,"v":0.0406},{"p":"f","k":"Gaussian Fit","s":"f2","e":1029.4,"v":0.0169},{"p":"f","k":"Gaussian Fit","s":"f2","e":1029.85,"v":0.0014},
{"p":"f","k":"Gaussian Fit","s":"f3","e":1017.4,"v":0.0013},{"p":"f","k":"Gaussian Fit","s":"f3","e":1018.5,"v":0.0162},{"p":"f","k":"Gaussian Fit","s":"f3","e":1019.05,"v":0.039},{"p":"f","k":"Gaussian Fit","s":"f3","e":1019.6,"v":0.0728},{"p":"f","k":"Gaussian Fit","s":"f3","e":1020.15,"v":0.1059},{"p":"f","k":"Gaussian Fit","s":"f3","e":1020.7,"v":0.12},{"p":"f","k":"Gaussian Fit","s":"f3","e":1021.25,"v":0.1059},{"p":"f","k":"Gaussian Fit","s":"f3","e":1021.8,"v":0.0728},{"p":"f","k":"Gaussian Fit","s":"f3","e":1022.35,"v":0.039},{"p":"f","k":"Gaussian Fit","s":"f3","e":1022.9,"v":0.0162},{"p":"f","k":"Gaussian Fit","s":"f3","e":1024,"v":0.0013},
{"p":"f","k":"Gaussian Fit","s":"f4","e":1000.4,"v":0.0003},{"p":"f","k":"Gaussian Fit","s":"f4","e":1001.4,"v":0.0038},{"p":"f","k":"Gaussian Fit","s":"f4","e":1001.9,"v":0.0091},{"p":"f","k":"Gaussian Fit","s":"f4","e":1002.4,"v":0.017},{"p":"f","k":"Gaussian Fit","s":"f4","e":1002.9,"v":0.0247},{"p":"f","k":"Gaussian Fit","s":"f4","e":1003.4,"v":0.028},{"p":"f","k":"Gaussian Fit","s":"f4","e":1003.9,"v":0.0247},{"p":"f","k":"Gaussian Fit","s":"f4","e":1004.4,"v":0.017},{"p":"f","k":"Gaussian Fit","s":"f4","e":1004.9,"v":0.0091},{"p":"f","k":"Gaussian Fit","s":"f4","e":1005.4,"v":0.0038},{"p":"f","k":"Gaussian Fit","s":"f4","e":1006.4,"v":0.0003}
]},
"concat": [
{"width": 350, "height": 353,
 "title": {"text": "c 667333193_14", "orient": "right", "angle": 270, "baseline": "top", "anchor": "middle", "frame": "bounds", "offset": -9, "font": "Liberation Serif", "fontSize": 25, "fontWeight": "normal", "color": "#222"},
 "data": {"name": "w"}, "transform": [{"filter": "datum.p == 'c'"}],
 "encoding": {
  "x": {"field": "e", "type": "quantitative", "scale": {"domain": [1038.4, 1200.5], "reverse": true, "nice": false, "zero": false}, "axis": {"title": "Elevation [m]", "values": [1200, 1150, 1100, 1050], "format": "d"}},
  "y": {"field": "v", "type": "quantitative", "scale": {"domain": [-0.014, 0.375], "nice": false, "zero": false}, "axis": {"orient": "right", "title": "Model Alternate Fit Return Pulse [mV]", "values": [0, 0.05, 0.1, 0.15, 0.2, 0.25, 0.3, 0.35], "labelExpr": "round(datum.value*100) % 10 == 0 ? format(datum.value, '.2f') : ''"}},
  "color": {"field": "k", "type": "nominal", "scale": {"domain": ["GLAS", "BEW", "GA", "Gaussian Fit"], "range": ["#2a2a2a", "#a8a8a8", "#c84838", "#f0a080"]}, "legend": null},
  "strokeDash": {"field": "k", "type": "nominal", "scale": {"domain": ["GLAS", "BEW", "GA", "Gaussian Fit"], "range": [[1, 0], [7, 9], [1, 0], [1, 0]]}, "legend": null},
  "detail": {"field": "s"}},
 "layer": [
  {"transform": [{"filter": "datum.k == 'BEW'"}], "mark": {"type": "line", "strokeWidth": 1.3, "interpolate": "monotone", "clip": true}},
  {"transform": [{"filter": "datum.k == 'BEW' && datum.v == 0"}], "mark": {"type": "line", "strokeWidth": 1.3, "strokeDashOffset": 8, "clip": true}, "encoding": {"color": {"value": "#d05a48"}, "strokeDash": {"value": [7, 9]}}},
  {"transform": [{"filter": "datum.k == 'Gaussian Fit'"}], "mark": {"type": "line", "strokeWidth": 1, "interpolate": "monotone", "clip": true}},
  {"transform": [{"filter": "datum.k == 'GA'"}], "mark": {"type": "line", "strokeWidth": 1.4, "interpolate": "monotone", "clip": true}},
  {"transform": [{"filter": "datum.k == 'GLAS'"}], "mark": {"type": "line", "strokeWidth": 2, "opacity": 0.85, "interpolate": "monotone", "clip": true}}
 ]},
{"width": 350, "height": 353,
 "title": {"text": "f 130637831_40", "orient": "right", "angle": 270, "baseline": "top", "anchor": "middle", "frame": "bounds", "offset": -9, "font": "Liberation Serif", "fontSize": 25, "fontWeight": "normal", "color": "#222"},
 "data": {"name": "w"}, "transform": [{"filter": "datum.p == 'f'"}],
 "encoding": {
  "x": {"field": "e", "type": "quantitative", "scale": {"domain": [985.3, 1073.7], "reverse": true, "nice": false, "zero": false}, "axis": {"title": "Elevation [m]", "values": [1060, 1040, 1020, 1000], "format": "d"}},
  "y": {"field": "v", "type": "quantitative", "scale": {"domain": [-0.023, 0.617], "nice": false, "zero": false}, "axis": {"orient": "right", "title": "Model Alternate Fit Return Pulse [mV]", "values": [0, 0.1, 0.2, 0.3, 0.4, 0.5, 0.6], "format": ".1f"}},
  "color": {"field": "k", "type": "nominal", "scale": {"domain": ["GLAS", "BEW", "GA", "Gaussian Fit"], "range": ["#2a2a2a", "#a8a8a8", "#c84838", "#f0a080"]}, "legend": null},
  "strokeDash": {"field": "k", "type": "nominal", "scale": {"domain": ["GLAS", "BEW", "GA", "Gaussian Fit"], "range": [[1, 0], [7, 9], [1, 0], [1, 0]]}, "legend": null},
  "detail": {"field": "s"}},
 "layer": [
  {"transform": [{"filter": "datum.k == 'BEW'"}], "mark": {"type": "line", "strokeWidth": 1.3, "interpolate": "monotone", "clip": true}},
  {"transform": [{"filter": "datum.k == 'BEW' && datum.v == 0"}], "mark": {"type": "line", "strokeWidth": 1.3, "strokeDashOffset": 8, "clip": true}, "encoding": {"color": {"value": "#d05a48"}, "strokeDash": {"value": [7, 9]}}},
  {"transform": [{"filter": "datum.k == 'Gaussian Fit'"}], "mark": {"type": "line", "strokeWidth": 1, "interpolate": "monotone", "clip": true}},
  {"transform": [{"filter": "datum.k == 'GA'"}], "mark": {"type": "line", "strokeWidth": 1.4, "interpolate": "monotone", "clip": true}},
  {"transform": [{"filter": "datum.k == 'GLAS'"}], "mark": {"type": "line", "strokeWidth": 2, "opacity": 0.85, "interpolate": "monotone", "clip": true}}
 ]},
{"width": 350, "height": 353,
 "title": {"text": "b 755775863_36", "orient": "right", "angle": 270, "baseline": "top", "anchor": "middle", "frame": "bounds", "offset": -9, "font": "Liberation Serif", "fontSize": 25, "fontWeight": "normal", "color": "#222"},
 "data": {"name": "w"}, "transform": [{"filter": "datum.p == 'b'"}],
 "encoding": {
  "x": {"field": "e", "type": "quantitative", "scale": {"domain": [852.8, 1013.8], "reverse": true, "nice": false, "zero": false}, "axis": {"title": "Elevation [m]", "values": [1000, 950, 900], "format": "d"}},
  "y": {"field": "v", "type": "quantitative", "scale": {"domain": [-0.0104, 0.2513], "nice": false, "zero": false}, "axis": {"orient": "right", "title": "Model Alternate Fit Return Pulse [mV]", "values": [0, 0.05, 0.1, 0.15, 0.2, 0.25], "format": ".2f"}},
  "color": {"field": "k", "type": "nominal", "scale": {"domain": ["GLAS", "BEW", "GA", "Gaussian Fit"], "range": ["#2a2a2a", "#a8a8a8", "#c84838", "#f0a080"]}, "legend": null},
  "strokeDash": {"field": "k", "type": "nominal", "scale": {"domain": ["GLAS", "BEW", "GA", "Gaussian Fit"], "range": [[1, 0], [7, 9], [1, 0], [1, 0]]}, "legend": null},
  "detail": {"field": "s"}},
 "layer": [
  {"transform": [{"filter": "datum.k == 'BEW'"}], "mark": {"type": "line", "strokeWidth": 1.3, "interpolate": "monotone", "clip": true}},
  {"transform": [{"filter": "datum.k == 'BEW' && datum.v == 0"}], "mark": {"type": "line", "strokeWidth": 1.3, "strokeDashOffset": 8, "clip": true}, "encoding": {"color": {"value": "#d05a48"}, "strokeDash": {"value": [7, 9]}}},
  {"transform": [{"filter": "datum.k == 'Gaussian Fit'"}], "mark": {"type": "line", "strokeWidth": 1, "interpolate": "monotone", "clip": true}},
  {"transform": [{"filter": "datum.k == 'GA'"}], "mark": {"type": "line", "strokeWidth": 1.4, "interpolate": "monotone", "clip": true}},
  {"transform": [{"filter": "datum.k == 'GLAS'"}], "mark": {"type": "line", "strokeWidth": 2, "opacity": 0.85, "interpolate": "monotone", "clip": true}}
 ]},
{"width": 350, "height": 353,
 "title": {"text": "e 130637831_15", "orient": "right", "angle": 270, "baseline": "top", "anchor": "middle", "frame": "bounds", "offset": -9, "font": "Liberation Serif", "fontSize": 25, "fontWeight": "normal", "color": "#222"},
 "data": {"name": "w"}, "transform": [{"filter": "datum.p == 'e'"}],
 "encoding": {
  "x": {"field": "e", "type": "quantitative", "scale": {"domain": [1130.8, 1218.75], "reverse": true, "nice": false, "zero": false}, "axis": {"title": "Elevation [m]", "values": [1200, 1180, 1160, 1140], "format": "d"}},
  "y": {"field": "v", "type": "quantitative", "scale": {"domain": [-0.044, 0.991], "nice": false, "zero": false}, "axis": {"orient": "right", "title": "Model Alternate Fit Return Pulse [mV]", "values": [0, 0.2, 0.4, 0.6, 0.8], "format": ".1f"}},
  "color": {"field": "k", "type": "nominal", "scale": {"domain": ["GLAS", "BEW", "GA", "Gaussian Fit"], "range": ["#2a2a2a", "#a8a8a8", "#c84838", "#f0a080"]}, "legend": null},
  "strokeDash": {"field": "k", "type": "nominal", "scale": {"domain": ["GLAS", "BEW", "GA", "Gaussian Fit"], "range": [[1, 0], [7, 9], [1, 0], [1, 0]]}, "legend": null},
  "detail": {"field": "s"}},
 "layer": [
  {"transform": [{"filter": "datum.k == 'BEW'"}], "mark": {"type": "line", "strokeWidth": 1.3, "interpolate": "monotone", "clip": true}},
  {"transform": [{"filter": "datum.k == 'BEW' && datum.v == 0"}], "mark": {"type": "line", "strokeWidth": 1.3, "strokeDashOffset": 8, "clip": true}, "encoding": {"color": {"value": "#d05a48"}, "strokeDash": {"value": [7, 9]}}},
  {"transform": [{"filter": "datum.k == 'Gaussian Fit'"}], "mark": {"type": "line", "strokeWidth": 1, "interpolate": "monotone", "clip": true}},
  {"transform": [{"filter": "datum.k == 'GA'"}], "mark": {"type": "line", "strokeWidth": 1.4, "interpolate": "monotone", "clip": true}},
  {"transform": [{"filter": "datum.k == 'GLAS'"}], "mark": {"type": "line", "strokeWidth": 2, "opacity": 0.85, "interpolate": "monotone", "clip": true}}
 ]},
{"width": 350, "height": 353,
 "title": {"text": "a 130637831_14", "orient": "right", "angle": 270, "baseline": "top", "anchor": "middle", "frame": "bounds", "offset": -9, "font": "Liberation Serif", "fontSize": 25, "fontWeight": "normal", "color": "#222"},
 "data": {"name": "w"}, "transform": [{"filter": "datum.p == 'a'"}],
 "encoding": {
  "x": {"field": "e", "type": "quantitative", "scale": {"domain": [1124.1, 1212], "reverse": true, "nice": false, "zero": false}, "axis": {"title": "Elevation [m]", "values": [1200, 1180, 1160, 1140], "format": "d"}},
  "y": {"field": "v", "type": "quantitative", "scale": {"domain": [-0.0107, 0.2723], "nice": false, "zero": false}, "axis": {"orient": "right", "title": "Model Alternate Fit Return Pulse [mV]", "values": [0, 0.05, 0.1, 0.15, 0.2, 0.25], "format": ".2f"}},
  "color": {"field": "k", "type": "nominal", "scale": {"domain": ["GLAS", "BEW", "GA", "Gaussian Fit"], "range": ["#2a2a2a", "#a8a8a8", "#c84838", "#f0a080"]},
   "legend": {"orient": "none", "legendX": 13, "legendY": 12, "title": null, "direction": "horizontal", "columns": 4, "strokeColor": "#555", "fillColor": "#ffffff", "padding": 10, "clipHeight": 150, "symbolType": "M0.17,3.8L0.17,7.8", "symbolSize": 400, "symbolStrokeWidth": 1.5, "labelFont": "Liberation Sans", "labelFontSize": 18, "labelColor": "#222", "labelOffset": 0, "labelAlign": "left", "labelBaseline": "middle", "columnPadding": 0, "labelExpr": "datum.label == 'GA' ? 'GA\u2081,\u2082' : datum.label", "encode": {"labels": {"update": {"angle": {"value": 270}, "dx": {"value": -28}, "dy": {"value": -8.3}}}}}},
  "strokeDash": {"field": "k", "type": "nominal", "scale": {"domain": ["GLAS", "BEW", "GA", "Gaussian Fit"], "range": [[1, 0], [7, 9], [1, 0], [1, 0]]},
   "legend": {"orient": "none", "legendX": 13, "legendY": 12, "title": null, "direction": "horizontal", "columns": 4, "strokeColor": "#555", "fillColor": "#ffffff", "padding": 10, "clipHeight": 150, "symbolType": "M0.17,3.8L0.17,7.8", "symbolSize": 400, "symbolStrokeWidth": 1.5, "labelFont": "Liberation Sans", "labelFontSize": 18, "labelColor": "#222", "labelOffset": 0, "labelAlign": "left", "labelBaseline": "middle", "columnPadding": 0, "labelExpr": "datum.label == 'GA' ? 'GA\u2081,\u2082' : datum.label", "encode": {"labels": {"update": {"angle": {"value": 270}, "dx": {"value": -28}, "dy": {"value": -8.3}}}}}},
  "detail": {"field": "s"}},
 "layer": [
  {"transform": [{"filter": "datum.k == 'BEW'"}], "mark": {"type": "line", "strokeWidth": 1.3, "interpolate": "monotone", "clip": true}},
  {"transform": [{"filter": "datum.k == 'BEW' && datum.v == 0"}], "mark": {"type": "line", "strokeWidth": 1.3, "strokeDashOffset": 8, "clip": true}, "encoding": {"color": {"value": "#d05a48"}, "strokeDash": {"value": [7, 9]}}},
  {"transform": [{"filter": "datum.k == 'Gaussian Fit'"}], "mark": {"type": "line", "strokeWidth": 1, "interpolate": "monotone", "clip": true}},
  {"transform": [{"filter": "datum.k == 'GA'"}], "mark": {"type": "line", "strokeWidth": 1.4, "interpolate": "monotone", "clip": true}},
  {"transform": [{"filter": "datum.k == 'GLAS'"}], "mark": {"type": "line", "strokeWidth": 2, "opacity": 0.85, "interpolate": "monotone", "clip": true}}
 ]},
{"width": 350, "height": 353,
 "title": {"text": "d 130637831_33", "orient": "right", "angle": 270, "baseline": "top", "anchor": "middle", "frame": "bounds", "offset": -9, "font": "Liberation Serif", "fontSize": 25, "fontWeight": "normal", "color": "#222"},
 "data": {"name": "w"}, "transform": [{"filter": "datum.p == 'd'"}],
 "encoding": {
  "x": {"field": "e", "type": "quantitative", "scale": {"domain": [1013.25, 1101.25], "reverse": true, "nice": false, "zero": false}, "axis": {"title": "Elevation [m]", "values": [1100, 1080, 1060, 1040, 1020], "format": "d"}},
  "y": {"field": "v", "type": "quantitative", "scale": {"domain": [-0.011, 0.2945], "nice": false, "zero": false}, "axis": {"orient": "right", "title": "Model Alternate Fit Return Pulse [mV]", "values": [0, 0.05, 0.1, 0.15, 0.2, 0.25], "format": ".2f"}},
  "color": {"field": "k", "type": "nominal", "scale": {"domain": ["GLAS", "BEW", "GA", "Gaussian Fit"], "range": ["#2a2a2a", "#a8a8a8", "#c84838", "#f0a080"]}, "legend": null},
  "strokeDash": {"field": "k", "type": "nominal", "scale": {"domain": ["GLAS", "BEW", "GA", "Gaussian Fit"], "range": [[1, 0], [7, 9], [1, 0], [1, 0]]}, "legend": null},
  "detail": {"field": "s"}},
 "layer": [
  {"transform": [{"filter": "datum.k == 'BEW'"}], "mark": {"type": "line", "strokeWidth": 1.3, "interpolate": "monotone", "clip": true}},
  {"transform": [{"filter": "datum.k == 'BEW' && datum.v == 0"}], "mark": {"type": "line", "strokeWidth": 1.3, "strokeDashOffset": 8, "clip": true}, "encoding": {"color": {"value": "#d05a48"}, "strokeDash": {"value": [7, 9]}}},
  {"transform": [{"filter": "datum.k == 'Gaussian Fit'"}], "mark": {"type": "line", "strokeWidth": 1, "interpolate": "monotone", "clip": true}},
  {"transform": [{"filter": "datum.k == 'GA'"}], "mark": {"type": "line", "strokeWidth": 1.4, "interpolate": "monotone", "clip": true}},
  {"transform": [{"filter": "datum.k == 'GLAS'"}], "mark": {"type": "line", "strokeWidth": 2, "opacity": 0.85, "interpolate": "monotone", "clip": true}}
 ]}
]
}
